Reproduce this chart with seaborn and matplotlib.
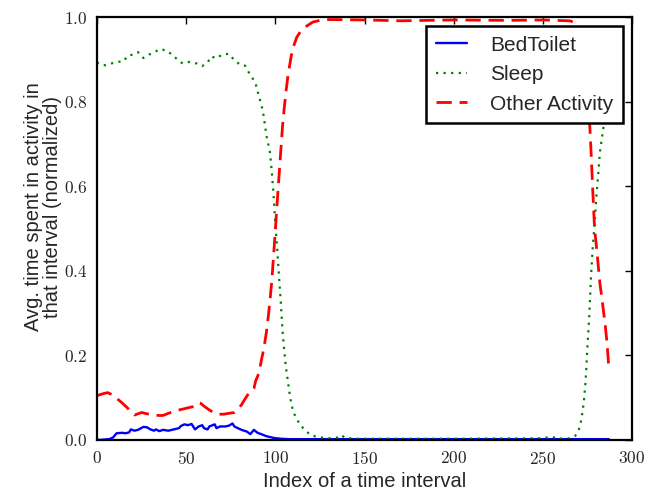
import matplotlib
matplotlib.use("Agg")
import matplotlib.pyplot as plt
import seaborn as sns
from matplotlib.ticker import FuncFormatter

# ---- data ----
sleep_idx = [0, 2, 5, 8, 11, 15, 17, 20, 23, 26, 29, 32, 35, 39, 42, 45, 48, 52, 56, 59,
             62, 64, 67, 70, 74, 77, 80, 83, 85, 87, 89, 90, 91, 92, 93, 94, 95, 96, 97, 98,
             99, 100, 101, 102, 103, 104, 105, 106, 107, 108, 109, 110, 111, 112, 114, 117,
             120, 125, 130, 135, 137, 139, 145, 200, 250, 255, 258, 265, 267, 268, 269, 270,
             271, 272, 273, 274, 275, 276, 277, 278, 279, 280, 281, 282, 283, 284, 285, 286, 287]
sleep_val = [0.893, 0.887, 0.886, 0.890, 0.894, 0.895, 0.908, 0.911, 0.917, 0.903, 0.911, 0.916,
             0.924, 0.921, 0.911, 0.900, 0.890, 0.894, 0.890, 0.884, 0.892, 0.907, 0.902, 0.911,
             0.913, 0.898, 0.888, 0.885, 0.870, 0.857, 0.842, 0.825, 0.81, 0.795, 0.778, 0.75,
             0.72, 0.70, 0.68, 0.635, 0.58, 0.51, 0.455, 0.39, 0.33, 0.26, 0.21, 0.17, 0.14,
             0.11, 0.085, 0.068, 0.058, 0.05, 0.035, 0.022, 0.011, 0.006, 0.004, 0.006, 0.012,
             0.005, 0.003, 0.003, 0.004, 0.008, 0.003, 0.004, 0.006, 0.009, 0.015, 0.022, 0.035,
             0.06, 0.09, 0.14, 0.22, 0.29, 0.385, 0.457, 0.51, 0.575, 0.625, 0.68, 0.71, 0.74,
             0.79, 0.83, 0.86]

other_idx = [0, 3, 6, 10, 12, 14, 16, 18, 21, 23, 25, 28, 31, 35, 37, 40, 44, 46, 48, 52, 55,
             57, 58, 60, 63, 66, 68, 71, 74, 77, 79, 81, 83, 85, 87, 88, 89, 90, 91, 92, 93, 94,
             95, 96, 97, 98, 99, 100, 101, 102, 103, 104, 105, 106, 107, 108, 109, 110, 112,
             114, 117, 121, 125, 130, 150, 170, 200, 230, 250, 265, 268, 269, 270, 271, 272,
             273, 274, 275, 276, 277, 278, 279, 280, 281, 282, 283, 284, 285, 286, 287]
other_val = [0.105, 0.109, 0.112, 0.104, 0.095, 0.088, 0.080, 0.072, 0.059, 0.062, 0.065, 0.062,
             0.059, 0.058, 0.058, 0.063, 0.069, 0.071, 0.073, 0.077, 0.080, 0.088, 0.087, 0.080,
             0.071, 0.063, 0.061, 0.061, 0.063, 0.065, 0.074, 0.083, 0.097, 0.110, 0.116, 0.122,
             0.140, 0.150, 0.160, 0.185, 0.205, 0.228, 0.255, 0.29, 0.33, 0.375, 0.435, 0.495,
             0.56, 0.62, 0.68, 0.74, 0.785, 0.825, 0.858, 0.885, 0.91, 0.928, 0.952, 0.965,
             0.977, 0.988, 0.992, 0.994, 0.993, 0.991, 0.993, 0.992, 0.993, 0.991, 0.987, 0.982,
             0.97, 0.955, 0.93, 0.90, 0.86, 0.81, 0.77, 0.685, 0.59, 0.50, 0.46, 0.415, 0.37,
             0.34, 0.305, 0.27, 0.23, 0.17]

bed_idx = [0, 4, 7, 9, 11, 14, 16, 18, 19, 21, 23, 26, 28, 30, 32, 33, 35, 37, 40, 43, 46,
           47, 49, 51, 53, 55, 57, 59, 60, 62, 63, 66, 67, 69, 72, 74, 76, 77, 79, 81, 84, 86,
           88, 90, 92, 95, 99, 103, 108, 120, 287]
bed_val = [0.000, 0.001, 0.002, 0.006, 0.016, 0.017, 0.016, 0.018, 0.025, 0.022, 0.024, 0.031,
           0.030, 0.025, 0.022, 0.025, 0.021, 0.024, 0.022, 0.025, 0.028, 0.033, 0.037, 0.035,
           0.038, 0.025, 0.032, 0.035, 0.028, 0.025, 0.032, 0.037, 0.028, 0.032, 0.032, 0.034,
           0.039, 0.032, 0.028, 0.024, 0.020, 0.014, 0.024, 0.017, 0.014, 0.009, 0.005, 0.003,
           0.002, 0.002, 0.002]

labels = ["BedToilet", "Sleep", "Other Activity"]
x_ticks = [0, 50, 100, 150, 200, 250, 300]
y_ticks = [0.0, 0.2, 0.4, 0.6, 0.8, 1.0]

# ---- style ----
sns.set_style("white")
plt.rcParams["mathtext.fontset"] = "cm"
plt.rcParams["font.family"] = ["Liberation Sans", "DejaVu Sans"]

fig = plt.figure(figsize=(6.48, 4.91), dpi=100)
ax = fig.add_axes([97 / 648, 1 - 440 / 491, (632 - 97) / 648, (440 - 17) / 491])

sns.lineplot(x=bed_idx, y=bed_val, ax=ax, color="#0000ff", lw=1.7, label=labels[0])
sns.lineplot(x=sleep_idx, y=sleep_val, ax=ax, color="#008000", lw=1.6, label=labels[1])
sns.lineplot(x=other_idx, y=other_val, ax=ax, color="#ff0000", lw=2.0, label=labels[2])
lines = ax.get_lines()
lines[1].set_dashes([1, 2.4])
lines[2].set_dashes([5.5, 2.8])

ax.set_xlim(0, 300)
ax.set_ylim(0, 1.0)
ax.set_xticks(x_ticks)
ax.set_yticks(y_ticks)
ax.xaxis.set_major_formatter(FuncFormatter(lambda v, p: f"${int(round(v))}$"))
ax.yaxis.set_major_formatter(FuncFormatter(lambda v, p: f"${v:.1f}$"))
ax.tick_params(direction="in", top=True, right=True, length=5, width=1.0,
               labelsize=12.5, color="black", pad=7)
for s in ax.spines.values():
    s.set_visible(True)
    s.set_linewidth(1.6)
    s.set_color("black")

ax.set_xlabel("Index of a time interval", fontsize=14.5, labelpad=4)
ax.set_ylabel("Avg. time spent in activity in\nthat interval (normalized)", fontsize=14.5,
              linespacing=1.0)
ax.yaxis.set_label_coords(-0.066, 0.551)

leg = ax.legend(loc="upper right", fontsize=15, frameon=True, fancybox=False,
                framealpha=1, edgecolor="black", borderaxespad=0.45,
                handlelength=1.5, handletextpad=1.1, labelspacing=0.5, borderpad=0.45)
leg.get_frame().set_linewidth(1.8)

fig.savefig("out.png", dpi=100)
